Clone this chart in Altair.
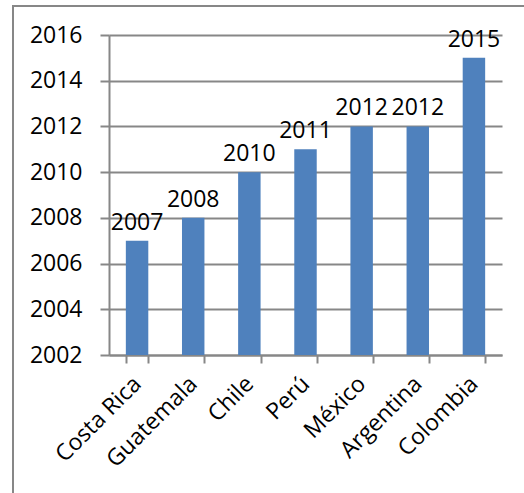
import altair as alt
import pandas as pd

countries = ["Costa Rica", "Guatemala", "Chile", "Perú", "México", "Argentina", "Colombia"]
years = [2007, 2008, 2010, 2011, 2012, 2012, 2015]
y_ticks = [2002, 2004, 2006, 2008, 2010, 2012, 2014, 2016]

df = pd.DataFrame({"country": countries, "year": years, "base": [2002] * len(years)})

W, H = 393, 320
FONT = "Open Sans"
FS = 23
GRAY = "#878787"

x = alt.X("country:N", sort=countries,
          scale=alt.Scale(paddingInner=0.6, paddingOuter=0.3),
          axis=alt.Axis(title=None, labelAngle=-45, labelAlign="right", labelBaseline="middle",
                        labelFont=FONT, labelFontSize=FS, labelColor="black", labelPadding=17,
                        domainColor=GRAY, domainWidth=2, tickColor=GRAY, tickWidth=2, tickSize=8,
                        tickBand="extent", grid=False, labelOverlap=False))
y = alt.Y("year:Q", scale=alt.Scale(domain=[2002, 2016], nice=False, zero=False),
          axis=alt.Axis(title=None, values=y_ticks, format="d", labelFont=FONT, labelFontSize=FS,
                        labelColor="black", labelPadding=18, domainColor=GRAY, domainWidth=2,
                        tickColor=GRAY, tickWidth=2, tickSize=9, grid=True, gridColor=GRAY,
                        gridWidth=2))

bars = alt.Chart(df).mark_bar(color="#4F81BD", clip=True).encode(x=x, y=y, y2="base:Q")
labels = alt.Chart(df).mark_text(font=FONT, fontSize=FS, color="black", dy=-11, baseline="alphabetic").encode(
    x=alt.X("country:N", sort=countries), y="year:Q", text=alt.Text("year:Q", format="d"))

frame = alt.Chart(df).mark_rect(fill=None, stroke=GRAY, strokeWidth=2, clip=False).encode(
    x=alt.value(-96), x2=alt.value(W + 40), y=alt.value(-29), y2=alt.value(H + 200))

chart = alt.layer(frame, bars, labels).properties(
    width=W, height=H,
    autosize=alt.AutoSizeParams(type="none"),
    padding={"left": 109, "top": 35, "right": 22, "bottom": 138},
).configure_view(stroke=None)

chart.save("out.html", embed_options={"renderer": "svg", "actions": False})
